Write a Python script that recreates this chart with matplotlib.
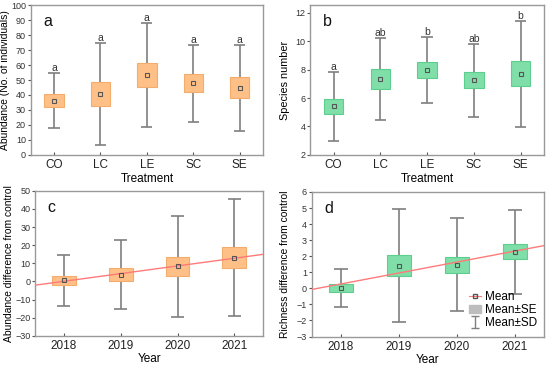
import matplotlib
matplotlib.use("Agg")
import matplotlib.pyplot as plt
import numpy as np
from matplotlib.legend_handler import HandlerTuple
from matplotlib.lines import Line2D
from matplotlib.patches import Patch

plt.rcParams["font.family"] = ["Liberation Sans", "DejaVu Sans"]

# panel a / b: treatments
treatments = ["CO", "LC", "LE", "SC", "SE"]
abund_mean = [36.1, 40.6, 53.3, 47.9, 44.9]
abund_se = [4.3, 8.1, 8.3, 6.0, 7.0]
abund_sd = [18.3, 33.9, 35.0, 25.8, 28.8]
abund_letters = ["a", "a", "a", "a", "a"]

rich_mean = [5.41, 7.35, 7.98, 7.26, 7.70]
rich_se = [0.56, 0.68, 0.54, 0.58, 0.88]
rich_sd = [2.44, 2.90, 2.29, 2.58, 3.71]
rich_letters = ["a", "ab", "b", "ab", "b"]

# panel c / d: years
years = ["2018", "2019", "2020", "2021"]
dabund_mean = [0.57, 3.7, 8.3, 13.2]
dabund_se = [2.65, 3.55, 5.15, 5.9]
dabund_sd = [13.9, 19.05, 28.0, 32.4]

drich_mean = [0.02, 1.42, 1.46, 2.28]
drich_se = [0.23, 0.64, 0.51, 0.48]
drich_sd = [1.21, 3.52, 2.89, 2.62]

ORANGE = "#ffc088"
ORANGE_EDGE = "#f2ac6c"
GREEN = "#80dea8"
GREEN_EDGE = "#5ccf8e"
GRAY = "#7f7f7f"
RED = "#ff7a7a"


def box_panel(ax, labels, mean, se, sd, fc, ec, letters=None, trend=False):
    x = np.arange(len(labels))
    mean = np.array(mean)
    se = np.array(se)
    sd = np.array(sd)
    # whiskers (mean +- SD)
    ax.vlines(x, mean - sd, mean + sd, color=GRAY, lw=1.2, zorder=1)
    ax.hlines(mean - sd, x - 0.12, x + 0.12, color=GRAY, lw=1.2, zorder=1)
    ax.hlines(mean + sd, x - 0.12, x + 0.12, color=GRAY, lw=1.2, zorder=1)
    # box (mean +- SE)
    ax.bar(x, 2 * se, bottom=mean - se, width=0.42, color=fc, edgecolor=ec,
           lw=0.8, zorder=2)
    ax.plot(x, mean, ls="none", marker="s", ms=3, mfc="none", mec="#555555",
            mew=0.8, zorder=4)
    if letters is not None:
        for xi, top, lab in zip(x, mean + sd, letters):
            ax.text(xi, top, lab, ha="center", va="bottom", fontsize=7.5,
                    color="#333333")
    if trend:
        k, b = np.polyfit(x, mean, 1)
        xx = np.array([-0.5, len(labels) - 0.5])
        ax.plot(xx, k * xx + b, color=RED, lw=1.0, zorder=3)
    ax.set_xticks(x)
    ax.set_xticklabels(labels, fontsize=8.5)
    ax.set_xlim(-0.5, len(labels) - 0.5)
    ax.tick_params(axis="x", direction="in", length=2, pad=3, colors="#555555",
                   labelcolor="#222222")
    ax.tick_params(axis="y", direction="out", length=2, pad=1.5, labelsize=6.5,
                   colors="#555555", labelcolor="#333333")
    for s in ax.spines.values():
        s.set_color("#999999")
        s.set_linewidth(1.0)


fig = plt.figure(figsize=(5.5, 3.67), dpi=100)
ax_a = fig.add_axes([0.056, 0.578, 0.422, 0.408])
ax_b = fig.add_axes([0.564, 0.578, 0.425, 0.408])
ax_c = fig.add_axes([0.064, 0.085, 0.414, 0.395])
ax_d = fig.add_axes([0.567, 0.083, 0.422, 0.394])

box_panel(ax_a, treatments, abund_mean, abund_se, abund_sd, ORANGE, ORANGE_EDGE,
          letters=abund_letters)
ax_a.set_ylim(0, 100)
ax_a.set_yticks(np.arange(0, 101, 10))
ax_a.set_ylabel("Abundance (No. of individuals)", fontsize=7.4, labelpad=1)
ax_a.set_xlabel("Treatment", fontsize=8.5, labelpad=1.5)

box_panel(ax_b, treatments, rich_mean, rich_se, rich_sd, GREEN, GREEN_EDGE,
          letters=rich_letters)
ax_b.set_ylim(2, 12.55)
ax_b.set_yticks(np.arange(2, 13, 2))
ax_b.set_ylabel("Species number", fontsize=7.8, labelpad=4)
ax_b.set_xlabel("Treatment", fontsize=8.5, labelpad=1.5)

box_panel(ax_c, years, dabund_mean, dabund_se, dabund_sd, ORANGE, ORANGE_EDGE,
          trend=True)
ax_c.set_ylim(-30, 50)
ax_c.set_yticks(np.arange(-30, 51, 10))
ax_c.set_ylabel("Abundance difference from control", fontsize=7.4, labelpad=1)
ax_c.set_xlabel("Year", fontsize=8.5, labelpad=1)

box_panel(ax_d, years, drich_mean, drich_se, drich_sd, GREEN, GREEN_EDGE,
          trend=True)
ax_d.set_ylim(-3, 6)
ax_d.set_yticks(np.arange(-3, 7, 1))
ax_d.set_ylabel("Richness difference from control", fontsize=7.4, labelpad=5)
ax_d.set_xlabel("Year", fontsize=8.5, labelpad=1)

for ax, letter in zip([ax_a, ax_b, ax_c, ax_d], ["a", "b", "c", "d"]):
    ax.text(0.055, 0.94, letter, transform=ax.transAxes, fontsize=11.5,
            va="top", ha="left", color="#111111")

# legend handles: mean marker, SE box, SD whisker
sd_handle = ax_d.errorbar([np.nan], [np.nan], yerr=[1], ls="none",
                          ecolor=GRAY, elinewidth=1.0, capsize=3)
handles = [
    (Line2D([], [], color=RED, lw=0.8),
     Line2D([], [], ls="none", marker="s", ms=3.5, mfc="none", mec="#555555")),
    Patch(facecolor="#bdbdbd", edgecolor="#bdbdbd"),
    sd_handle,
]
ax_d.legend(handles, ["Mean", "Mean\u00b1SE", "Mean\u00b1SD"], loc="lower right",
            frameon=False, fontsize=8.5, handlelength=1.0, handletextpad=0.3,
            labelspacing=0.1, borderaxespad=0.2,
            handler_map={tuple: HandlerTuple(ndivide=1)})

fig.savefig("out.png", dpi=100)
